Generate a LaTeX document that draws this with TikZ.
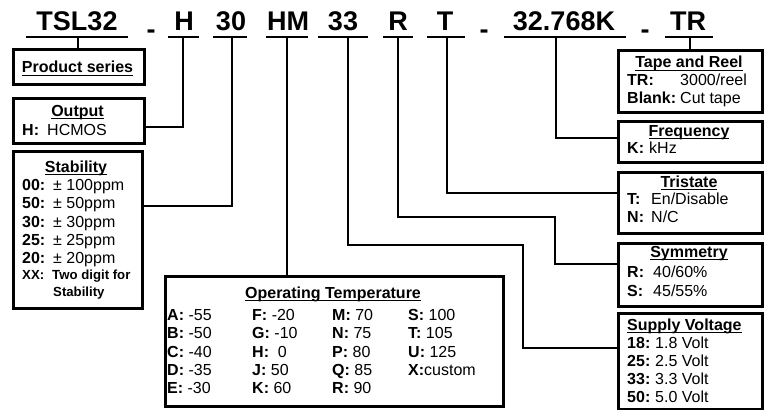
\documentclass[tikz,border=0pt]{standalone}
\usepackage{fontspec}
\setmainfont{Liberation Sans}
\newcommand\myul[1]{\setbox0\hbox{#1}\rlap{\rule[-3pt]{\wd0}{1.4pt}}\box0}
\newcommand\lab[2]{\makebox[#1][l]{\bfseries #2}}
\tikzset{
  box/.style={draw, line width=2.6pt, inner sep=0pt, anchor=north west},
  conn/.style={line width=1.8pt},
  uline/.style={line width=2.8pt},
  hd/.style={font=\fontsize{27}{30}\selectfont\bfseries, anchor=base, inner sep=0pt},
  txt/.style={font=\fontsize{16}{19}\selectfont, anchor=base west, inner sep=0pt},
  ttl/.style={font=\fontsize{16}{19}\selectfont\bfseries, anchor=base, inner sep=0pt},
  sml/.style={font=\fontsize{13.2}{16}\selectfont\bfseries, anchor=base west, inner sep=0pt},
}
\begin{document}
\begin{tikzpicture}[x=1pt,y=-1pt]
\useasboundingbox (0,0) rectangle (767,409);
% header
\node[hd] (hTSL) at (77,31) {TSL32};
\node[hd] (hd1) at (151,38.5) {-};
\node[hd] (hH) at (184,31) {H};
\node[hd] (h30) at (231,31) {30};
\node[hd] (hHM) at (288,31) {HM};
\node[hd] (h33) at (343,31) {33};
\node[hd] (hR) at (398,31) {R};
\node[hd] (hT) at (445,31) {T};
\node[hd] (hd2) at (484,38.5) {-};
\node[hd] (hK) at (564,31) {32.768K};
\node[hd] (hd3) at (645,38.5) {-};
\node[hd] (hTR) at (688,31) {TR};
\draw[uline] (26,37) -- (128,37);
\draw[uline] (168,37) -- (199,37);
\draw[uline] (213,37) -- (247,37);
\draw[uline] (266,37) -- (308,37);
\draw[uline] (318,37) -- (368,37);
\draw[uline] (383,37) -- (413,37);
\draw[uline] (427,37) -- (465,37);
\draw[uline] (504,37) -- (626,37);
\draw[uline] (665,37) -- (713,37);
\coordinate (uTSL) at (78,37);
\coordinate (uH) at (183,37);
\coordinate (u30) at (232,37);
\coordinate (uHM) at (287,37);
\coordinate (u33) at (348,37);
\coordinate (uR) at (398,37);
\coordinate (uT) at (447,37);
\coordinate (uK) at (556,37);
\coordinate (uTR) at (690,37);
% boxes
\node[box, minimum width=131pt, minimum height=35pt] (ps) at (12,48) {};
\node[box, minimum width=131pt, minimum height=45pt] (out) at (12,97) {};
\node[box, minimum width=129pt, minimum height=157pt] (stab) at (12,150) {};
\node[box, minimum width=338pt, minimum height=130pt] (ot) at (164,275) {};
\node[box, minimum width=144pt, minimum height=62pt] (tr) at (617,49) {};
\node[box, minimum width=144pt, minimum height=41pt] (fr) at (617,120) {};
\node[box, minimum width=144pt, minimum height=61pt] (tri) at (617,171) {};
\node[box, minimum width=144pt, minimum height=63pt] (sym) at (617,242) {};
\node[box, minimum width=144pt, minimum height=96pt] (sv) at (617,312) {};
% connectors
\draw[conn] (uTSL) -- (uTSL |- ps.north);
\draw[conn] (uH) |- ([yshift=-6.5pt]out.east);
\draw[conn] (u30) |- ([yshift=23.5pt]stab.east);
\draw[conn] (uHM) -- (uHM |- ot.north);
\draw[conn] (u33) |- (523,245) |- ([yshift=13pt]sv.west);
\draw[conn] (uR) |- (555,217) |- ([yshift=10.5pt]sym.west);
\draw[conn] (uT) |- ([yshift=9.5pt]tri.west);
\draw[conn] (uK) |- ([yshift=3.5pt]fr.west);
\draw[conn] (uTR) -- (uTR |- tr.north);
% product series
\node[ttl] (psT) at (77.5,73) {\myul{Product series}};
% output
\node[ttl] (outT) at (77.5,116) {\myul{Output}};
\node[txt] (outH) at (22,135) {\lab{25pt}{H:}HCMOS};
% stability
\node[ttl] (stT) at (76,172) {\myul{Stability}};
\node[txt] (st1) at (22,190) {\lab{31pt}{00:}± 100ppm};
\node[txt] (st2) at (22,208) {\lab{31pt}{50:}± 50ppm};
\node[txt] (st3) at (22,227) {\lab{31pt}{30:}± 30ppm};
\node[txt] (st4) at (22,245) {\lab{31pt}{25:}± 25ppm};
\node[txt] (st5) at (22,263) {\lab{31pt}{20:}± 20ppm};
\node[sml] (st6) at (22,279) {\makebox[30pt][l]{XX:}Two digit for};
\node[sml] (st7) at (53,296) {Stability};
% operating temperature
\node[ttl] (otT) at (333,298) {\myul{Operating Temperature}};
\node[txt] (oA) at (167,320) {\textbf{A:} -55};
\node[txt] (oB) at (167,338) {\textbf{B:} -50};
\node[txt] (oC) at (167,357) {\textbf{C:} -40};
\node[txt] (oD) at (167,375) {\textbf{D:} -35};
\node[txt] (oE) at (167,393) {\textbf{E:} -30};
\node[txt] (oF) at (252,320) {\textbf{F:} -20};
\node[txt] (oG) at (252,338) {\textbf{G:} -10};
\node[txt] (oH) at (252,357) {\textbf{H:}\ \ 0};
\node[txt] (oJ) at (252,375) {\textbf{J:} 50};
\node[txt] (oK) at (252,393) {\textbf{K:} 60};
\node[txt] (oM) at (332,320) {\textbf{M:} 70};
\node[txt] (oN) at (332,338) {\textbf{N:} 75};
\node[txt] (oP) at (332,357) {\textbf{P:} 80};
\node[txt] (oQ) at (332,375) {\textbf{Q:} 85};
\node[txt] (oR) at (332,393) {\textbf{R:} 90};
\node[txt] (oS) at (408,320) {\textbf{S:} 100};
\node[txt] (oT) at (408,338) {\textbf{T:} 105};
\node[txt] (oU) at (408,357) {\textbf{U:} 125};
\node[txt] (oX) at (408,375) {\textbf{X:}custom};
% tape and reel
\node[ttl] (trT) at (689,68) {\myul{Tape and Reel}};
\node[txt] (tr1) at (627,86) {\lab{53pt}{TR:}3000/reel};
\node[txt] (tr2) at (627,103) {\lab{53pt}{Blank:}Cut tape};
% frequency
\node[ttl] (frT) at (689,136) {\myul{Frequency}};
\node[txt] (fr1) at (627,153) {\lab{22pt}{K:}kHz};
% tristate
\node[ttl] (triT) at (689,187) {\myul{Tristate}};
\node[txt] (tri1) at (627,204) {\lab{24pt}{T:}En/Disable};
\node[txt] (tri2) at (627,222) {\lab{24pt}{N:}N/C};
% symmetry
\node[ttl] (symT) at (689,257) {\myul{Symmetry}};
\node[txt] (sym1) at (627,277) {\lab{26pt}{R:}40/60\%};
\node[txt] (sym2) at (627,296) {\lab{26pt}{S:}45/55\%};
% supply voltage
\node[ttl, anchor=base west] (svT) at (627,330) {\myul{Supply Voltage}};
\node[txt] (sv1) at (627,348) {\lab{28pt}{18:}1.8 Volt};
\node[txt] (sv2) at (627,366) {\lab{28pt}{25:}2.5 Volt};
\node[txt] (sv3) at (627,384) {\lab{28pt}{33:}3.3 Volt};
\node[txt] (sv4) at (627,402) {\lab{28pt}{50:}5.0 Volt};
\end{tikzpicture}
\end{document}
